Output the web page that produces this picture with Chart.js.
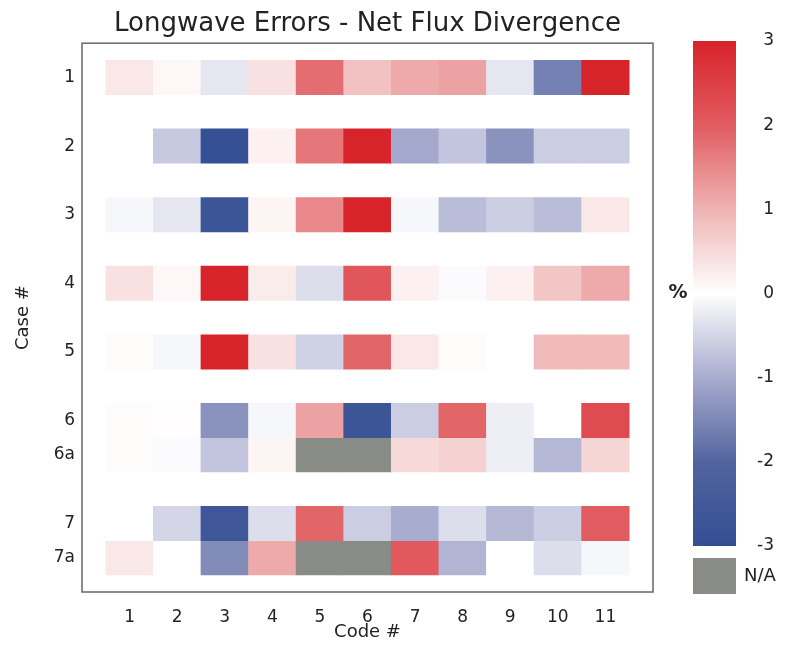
<!DOCTYPE html>
<html>
<head>
<meta charset="utf-8">
<script src="https://cdn.jsdelivr.net/npm/chart.js@4/dist/chart.umd.min.js"></script>
<style>
  body { margin: 0; background: #fff; }
  #wrap { position: relative; width: 790px; height: 651px; }
  #heat { position: absolute; left: 0; top: 0; }
  #bar { position: absolute; left: 660px; top: 0; }
</style>
</head>
<body>
<div id="wrap">
  <canvas id="heat" width="660" height="651"></canvas>
  <canvas id="bar" width="130" height="651"></canvas>
</div>
<script>
// Codes along x, cases down y
const codes = [1, 2, 3, 4, 5, 6, 7, 8, 9, 10, 11];
const caseLabels = ['1', '2', '3', '4', '5', '6', '6a', '7', '7a'];
const casePos = [1, 2, 3, 4, 5, 6, 6.5, 7.5, 8];

// % error per code (null = N/A)
const case1  = [0.3, 0.1, -0.3, 0.4, 1.8, 0.8, 1.1, 1.2, -0.3, -1.6, 3.0];
const case2  = [0.0, -0.65, -2.95, 0.2, 1.7, 3.0, -1.05, -0.7, -1.35, -0.6, -0.6];
const case3  = [-0.1, -0.3, -2.7, 0.15, 1.5, 3.0, -0.1, -0.8, -0.6, -0.8, 0.3];
const case4  = [0.4, 0.1, 3.0, 0.25, -0.4, 2.1, 0.2, -0.05, 0.2, 0.75, 1.1];
const case5  = [0.05, -0.1, 3.0, 0.4, -0.55, 1.9, 0.3, 0.05, 0.0, 0.9, 0.9];
const case6  = [0.05, 0.03, -1.35, -0.1, 1.2, -2.7, -0.6, 1.9, -0.2, 0.0, 2.3];
const case6a = [0.05, -0.05, -0.7, 0.15, null, null, 0.5, 0.6, -0.2, -0.85, 0.55];
const case7  = [0.0, -0.5, -2.6, -0.4, 1.9, -0.6, -1.0, -0.4, -0.85, -0.6, 2.0];
const case7a = [0.3, 0.0, -1.45, 1.1, null, null, 2.05, -0.9, 0.0, -0.4, -0.1];

const caseValues = [case1, case2, case3, case4, case5, case6, case6a, case7, case7a];

// colour bar range
const scaleMin = -3;
const scaleMax = 3;

// diverging colour map, blue -> white -> red
const stops = [
  [-3, [51, 79, 147]],
  [-2, [82, 100, 159]],
  [-1, [168, 172, 206]],
  [0, [255, 255, 255]],
  [1, [239, 179, 179]],
  [2, [225, 92, 96]],
  [3, [215, 35, 42]]
];
const naColor = '#898b86';

function colorFor(v) {
  if (v === null) return naColor;
  v = Math.max(scaleMin, Math.min(scaleMax, v));
  for (let i = 0; i < stops.length - 1; i++) {
    const [a, ca] = stops[i];
    const [b, cb] = stops[i + 1];
    if (v <= b) {
      const t = (v - a) / (b - a);
      const c = ca.map((x, k) => Math.round(x + (cb[k] - x) * t));
      return 'rgb(' + c.join(',') + ')';
    }
  }
  return 'rgb(215,35,42)';
}

const font = "'DejaVu Sans', Verdana, sans-serif";
const halfCell = 0.25;

const datasets = caseValues.map((vals, r) => ({
  label: 'Case ' + caseLabels[r],
  data: codes.map(c => ({ x: c, y: [casePos[r] - halfCell, casePos[r] + halfCell] })),
  backgroundColor: vals.map(colorFor),
  borderWidth: 0,
  barPercentage: 1,
  categoryPercentage: 1,
  grouped: false
}));

// box around plot area
const frame = {
  id: 'frame',
  afterDraw(chart) {
    const a = chart.chartArea;
    const ctx = chart.ctx;
    ctx.save();
    ctx.strokeStyle = '#666';
    ctx.lineWidth = 1.5;
    ctx.strokeRect(a.left, a.top, a.right - a.left, a.bottom - a.top);
    ctx.restore();
  }
};

new Chart(document.getElementById('heat'), {
  type: 'bar',
  data: { datasets: datasets },
  options: {
    responsive: false,
    animation: false,
    layout: { padding: { left: 0, right: 7, top: 0, bottom: 0 } },
    plugins: {
      legend: { display: false },
      tooltip: { enabled: false },
      title: {
        display: true,
        fullSize: false,
        text: 'Longwave Errors - Net Flux Divergence',
        color: '#222',
        font: { family: font, size: 26, weight: 'normal', lineHeight: 1.2 },
        padding: { top: 9, bottom: 3 }
      }
    },
    scales: {
      x: {
        type: 'linear',
        min: 0,
        max: 12,
        offset: false,
        grid: { display: false, drawTicks: false },
        border: { display: false },
        ticks: {
          stepSize: 1,
          autoSkip: false,
          maxRotation: 0,
          padding: 15,
          color: '#222',
          font: { family: font, size: 17 },
          callback: v => (v >= 1 && v <= 11) ? String(v) : ''
        },
        title: {
          display: true,
          text: 'Code #',
          color: '#222',
          font: { family: font, size: 18 },
          padding: { top: 0, bottom: 8 }
        },
        afterFit: s => {
          s.height = 59;
          s.paddingLeft = 0;
          s.paddingRight = 0;
        }
      },
      y: {
        type: 'linear',
        min: 0.5,
        max: 8.5,
        reverse: true,
        grid: { display: false, drawTicks: false },
        border: { display: false },
        afterBuildTicks: s => { s.ticks = casePos.map(v => ({ value: v })); },
        ticks: {
          padding: 7,
          color: '#222',
          font: { family: font, size: 17 },
          callback: v => caseLabels[casePos.indexOf(v)]
        },
        title: {
          display: true,
          text: 'Case #',
          color: '#222',
          font: { family: font, size: 18 },
          padding: { top: 13, bottom: 0 }
        },
        afterFit: s => {
          s.width = 82;
          s.paddingTop = 0;
          s.paddingBottom = 0;
        }
      }
    }
  },
  plugins: [frame]
});

// colour bar with N/A swatch and % label
const barExtras = {
  id: 'barExtras',
  afterDraw(chart) {
    const a = chart.chartArea;
    const ctx = chart.ctx;
    const y0 = chart.scales.y.getPixelForValue(0);
    ctx.save();
    ctx.fillStyle = naColor;
    ctx.fillRect(a.left, a.bottom + 12, a.right - a.left, 36);
    ctx.fillStyle = '#222';
    ctx.font = '18px ' + font;
    ctx.textBaseline = 'middle';
    ctx.textAlign = 'left';
    ctx.fillText('N/A', 84, a.bottom + 30);
    ctx.font = 'bold 19px ' + font;
    ctx.textAlign = 'center';
    ctx.fillText('%', 18, y0);
    ctx.restore();
  }
};

new Chart(document.getElementById('bar'), {
  type: 'bar',
  data: {
    labels: ['%'],
    datasets: [{
      data: [[scaleMin, scaleMax]],
      borderWidth: 0,
      barPercentage: 1,
      categoryPercentage: 1,
      backgroundColor: ctx => {
        const chart = ctx.chart;
        const y = chart.scales.y;
        if (!chart.chartArea || !y) return '#fff';
        const g = chart.ctx.createLinearGradient(0, y.getPixelForValue(scaleMax), 0, y.getPixelForValue(scaleMin));
        stops.slice().reverse().forEach(([v]) => {
          g.addColorStop((scaleMax - v) / (scaleMax - scaleMin), colorFor(v));
        });
        return g;
      }
    }]
  },
  options: {
    responsive: false,
    animation: false,
    layout: { padding: { left: 33, right: 16, top: 41, bottom: 105 } },
    plugins: { legend: { display: false }, tooltip: { enabled: false } },
    scales: {
      x: { display: false },
      y: {
        position: 'right',
        min: scaleMin,
        max: scaleMax,
        grid: { display: false, drawTicks: false },
        border: { display: false },
        ticks: {
          stepSize: 1,
          crossAlign: 'far',
          color: '#222',
          font: { family: font, size: 17 }
        },
        afterFit: s => { s.width = 38; }
      }
    }
  },
  plugins: [barExtras]
});
</script>
</body>
</html>
